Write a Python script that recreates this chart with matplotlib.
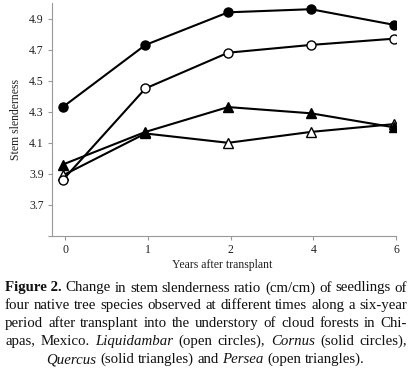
import matplotlib
matplotlib.use("Agg")
import matplotlib.pyplot as plt
import numpy as np

years = ["0", "1", "2", "4", "6"]
cornus = [4.33, 4.73, 4.94, 4.96, 4.86]        # solid circles
liquidambar = [3.86, 4.45, 4.68, 4.73, 4.77]   # open circles
quercus = [3.96, 4.17, 4.33, 4.29, 4.20]       # solid triangles
persea = [3.89, 4.16, 4.10, 4.17, 4.22]        # open triangles
yticks = [3.5, 3.7, 3.9, 4.1, 4.3, 4.5, 4.7, 4.9]
ytick_labels = ["", "3.7", "3.9", "4.1", "4.3", "4.5", "4.7", "4.9"]

plt.rcParams['font.family'] = ['Liberation Serif', 'DejaVu Serif']

W, H = 411, 371
fig = plt.figure(figsize=(W / 100, H / 100), dpi=100)
ax = fig.add_axes([52 / W, 1 - 236 / H, (396 - 52) / W, (236 - 3) / H])

x = np.arange(len(years))
lw = 1.5
ms = 6.5
ax.plot(x - 0.03, persea, '-', color='black', lw=lw, marker='^', ms=ms + 1,
        mfc='white', mec='black', mew=1.0, zorder=3)
ax.plot(x - 0.03, quercus, '-', color='black', lw=lw, marker='^', ms=ms + 1,
        mfc='black', mec='black', zorder=4)
ax.plot(x - 0.03, liquidambar, '-', color='black', lw=lw, marker='o', ms=ms,
        mfc='white', mec='black', mew=1.0, zorder=5)
ax.plot(x - 0.03, cornus, '-', color='black', lw=lw, marker='o', ms=ms,
        mfc='black', mec='black', zorder=6)

ax.set_xlim(-0.16, 4.0)
ax.set_ylim(3.5, 5.0)
ax.set_xticks(x)
ax.set_xticklabels(years)
ax.set_yticks(yticks)
ax.set_yticklabels(ytick_labels)
for s in ['top', 'right']:
    ax.spines[s].set_visible(False)
for s in ['left', 'bottom']:
    ax.spines[s].set_color('#999999')
    ax.spines[s].set_linewidth(0.8)
ax.tick_params(axis='both', colors='#999999', labelcolor='#222222',
               labelsize=8.5, length=3, width=0.8, direction='out')
ax.tick_params(axis='x', pad=3)
ax.tick_params(axis='y', pad=3)
ax.set_ylabel("Stem slenderness", fontsize=8.5, color='#222222', labelpad=5)
fig.text(222 / W, 1 - 265 / H, "Years after transplant", fontsize=8.5,
         color='#222222', ha='center', va='center')

# Caption with justified lines
cap_fs = 10.7
lines = [
    [("Figure 2.", 'bold', 'normal'), ("Change", 'normal', 'normal'), ("in", 'normal', 'normal'),
     ("stem", 'normal', 'normal'), ("slenderness", 'normal', 'normal'), ("ratio", 'normal', 'normal'),
     ("(cm/cm)", 'normal', 'normal'), ("of", 'normal', 'normal'), ("seedlings", 'normal', 'normal'),
     ("of", 'normal', 'normal')],
    [(w, 'normal', 'normal') for w in "four native tree species observed at different times along a six-year".split()],
    [(w, 'normal', 'normal') for w in "period after transplant into the understory of cloud forests in Chi-".split()],
    [("apas,", 'normal', 'normal'), ("Mexico.", 'normal', 'normal'), ("Liquidambar", 'normal', 'italic'),
     ("(open", 'normal', 'normal'), ("circles),", 'normal', 'normal'), ("Cornus", 'normal', 'italic'),
     ("(solid", 'normal', 'normal'), ("circles),", 'normal', 'normal')],
    [("Quercus", 'normal', 'italic'), ("(solid", 'normal', 'normal'), ("triangles)", 'normal', 'normal'),
     ("and", 'normal', 'normal'), ("Persea", 'normal', 'italic'), ("(open", 'normal', 'normal'),
     ("triangles).", 'normal', 'normal')],
]
line_y = [291.5, 309.4, 327.3, 345.2, 363.1]
left_px, right_px = 5, 407

fig.canvas.draw()
renderer = fig.canvas.get_renderer()
for li, (words, ypx) in enumerate(zip(lines, line_y)):
    texts = []
    widths = []
    for w, weight, style in words:
        t = fig.text(0, 1 - ypx / H, w, fontsize=cap_fs, fontweight=weight,
                     fontstyle=style, color='#111111', ha='left', va='baseline')
        bb = t.get_window_extent(renderer=renderer)
        texts.append(t)
        widths.append(bb.width)
    total = sum(widths)
    if li < len(lines) - 1:
        gap = (right_px - left_px - total) / (len(words) - 1)
        start = left_px
    else:
        sp = fig.text(0, 0, "a b", fontsize=cap_fs)
        sp2 = fig.text(0, 0, "ab", fontsize=cap_fs)
        gap = sp.get_window_extent(renderer=renderer).width - sp2.get_window_extent(renderer=renderer).width
        sp.remove(); sp2.remove()
        full = total + gap * (len(words) - 1)
        start = (W - full) / 2
    xpos = start
    for t, wdt in zip(texts, widths):
        t.set_x(xpos / W)
        xpos += wdt + gap

fig.savefig("out.png", dpi=100)
